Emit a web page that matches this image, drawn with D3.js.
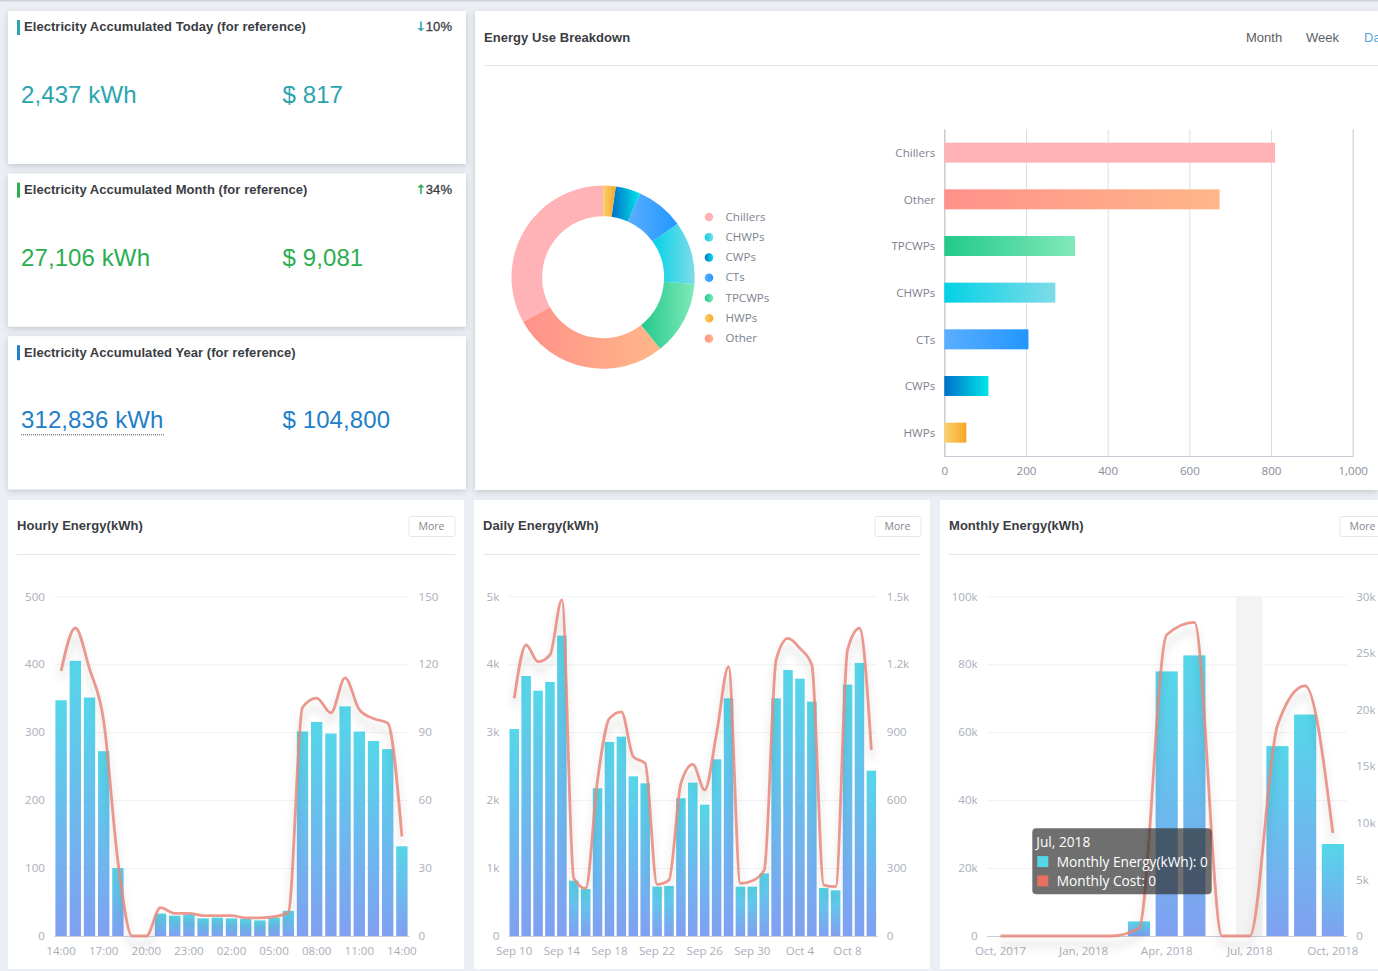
<!DOCTYPE html>
<html>
<head>
<meta charset="utf-8">
<script src="https://cdn.jsdelivr.net/npm/d3@7"></script>
<style>
html, body { margin: 0; padding: 0; background: #ebeef4; overflow: hidden; }
svg { display: block; }
text { font-family: "Open Sans", sans-serif; }
.head { font-family: "Liberation Sans", Arial, sans-serif; font-size: 13px; font-weight: 700; fill: #3a3d43; letter-spacing: 0.05px; }
.tick text { font-size: 11.6px; fill: #aaaeb9; }
</style>
</head>
<body>
<div id="chart"></div>
<script>
// KPI cards
const kpiTitles = ["Electricity Accumulated Today (for reference)", "Electricity Accumulated Month (for reference)", "Electricity Accumulated Year (for reference)"];
const kpiEnergy = ["2,437 kWh", "27,106 kWh", "312,836 kWh"];
const kpiCost = ["$ 817", "$ 9,081", "$ 104,800"];
const kpiChange = ["10%", "34%", ""];
const kpiArrows = ["↓", "↑", ""];

// Energy use breakdown
const breakdownNames = ["Chillers", "Other", "TPCWPs", "CHWPs", "CTs", "CWPs", "HWPs"];
const breakdownValues = [810, 674, 320, 272, 206, 108, 54];
const legendNames = ["Chillers", "CHWPs", "CWPs", "CTs", "TPCWPs", "HWPs", "Other"];
const breakdownTicks = [0, 200, 400, 600, 800, 1000];
const rangeTabs = ["Month", "Week", "Day"];

// Hourly
const hourLabels = ["14:00", "15:00", "16:00", "17:00", "18:00", "19:00", "20:00", "21:00", "22:00", "23:00", "00:00", "01:00", "02:00", "03:00", "04:00", "05:00", "06:00", "07:00", "08:00", "09:00", "10:00", "11:00", "12:00", "13:00", "14:00 "];
const hourEnergy = [347, 405, 351, 272, 100, 0, 0, 33, 30, 32, 26, 27, 26, 25, 23, 27, 37, 301, 315, 298, 338, 301, 287, 275, 132];
const hourCost = [117, 136, 118, 95, 33, 0, 0, 12.5, 10, 10, 9, 9, 9, 8, 8, 8.5, 10.5, 101, 105, 98.5, 114, 100, 96, 94, 44];

// Daily
const dayLabels = ["Sep 10", "Sep 11", "Sep 12", "Sep 13", "Sep 14", "Sep 15", "Sep 16", "Sep 17", "Sep 18", "Sep 19", "Sep 20", "Sep 21", "Sep 22", "Sep 23", "Sep 24", "Sep 25", "Sep 26", "Sep 27", "Sep 28", "Sep 29", "Sep 30", "Oct 1", "Oct 2", "Oct 3", "Oct 4", "Oct 5", "Oct 6", "Oct 7", "Oct 8", "Oct 9", "Oct 10"];
const dayEnergy = [3047, 3827, 3611, 3739, 4421, 815, 692, 2174, 2856, 2934, 2350, 2247, 726, 736, 2027, 2257, 1933, 2600, 3498, 726, 726, 922, 3498, 3915, 3788, 3450, 707, 672, 3700, 4019, 2434];
const dayCost = [1050, 1285, 1211, 1241, 1484, 255, 210, 690, 961, 990, 792, 762, 228, 247, 674, 758, 645, 895, 1189, 232, 244, 291, 1219, 1314, 1270, 1197, 225, 218, 1263, 1359, 821];

// Monthly
const monthLabels = ["Oct, 2017", "Nov, 2017", "Dec, 2017", "Jan, 2018", "Feb, 2018", "Mar, 2018", "Apr, 2018", "May, 2018", "Jun, 2018", "Jul, 2018", "Aug, 2018", "Sep, 2018", "Oct, 2018"];
const monthEnergy = [0, 0, 0, 0, 0, 4300, 77900, 82600, 0, 0, 55900, 65200, 27100];
const monthCost = [0, 0, 0, 0, 0, 680, 26600, 27700, 0, 0, 18600, 22100, 9100];

const width = 1378, height = 971;
const svg = d3.select("#chart").append("svg").attr("width", width).attr("height", height);
const defs = svg.append("defs");

// gradients, one per colour pair
function gradient(id, c1, c2, vertical) {
    const g = defs.append("linearGradient").attr("id", id)
        .attr("x1", 0).attr("y1", 0)
        .attr("x2", vertical ? 0 : 1).attr("y2", vertical ? 1 : 0);
    g.append("stop").attr("offset", "0%").attr("stop-color", c1);
    g.append("stop").attr("offset", "100%").attr("stop-color", c2);
}
gradient("barFill", "#55d7e9", "#80a0f1", true);
const sliceColors = {
    Chillers: ["#ffb3b6", "#ffb3b6"],
    Other: ["#ff918a", "#ffb789"],
    TPCWPs: ["#22c98b", "#80e9ba"],
    CHWPs: ["#02d2e6", "#7fdbe8"],
    CTs: ["#5aaeff", "#2296ff"],
    CWPs: ["#0070c8", "#00e6e8"],
    HWPs: ["#f9d271", "#faa526"]
};
Object.keys(sliceColors).forEach(k => gradient("fill" + k, sliceColors[k][0], sliceColors[k][1], false));

const shadow = defs.append("filter").attr("id", "cardShadow")
    .attr("x", "-5%").attr("y", "-5%").attr("width", "110%").attr("height", "115%");
shadow.append("feDropShadow").attr("dx", 0).attr("dy", 2).attr("stdDeviation", 3)
    .attr("flood-color", "#000").attr("flood-opacity", 0.16);

// top strip of the page
svg.append("rect").attr("width", width).attr("height", 1.5).attr("fill", "#cfd1d6");

function card(x, y, w, h, raised) {
    svg.append("rect").attr("x", x).attr("y", y).attr("width", w).attr("height", h)
        .attr("fill", "#fff").attr("filter", raised ? "url(#cardShadow)" : null);
}

// KPI cards on the left
const kpiColors = ["#2aa4ae", "#2bae50", "#1f80c9"];
kpiTitles.forEach((title, i) => {
    const top = 11 + i * 162.6;
    card(8, top, 458, 153, true);
    svg.append("rect").attr("x", 17).attr("y", top + 9).attr("width", 3).attr("height", 15).attr("fill", kpiColors[i]);
    svg.append("text").attr("class", "head").attr("x", 24).attr("y", top + 20.4).text(title);
    [kpiEnergy[i], kpiCost[i]].forEach((val, j) => {
        svg.append("text").attr("x", j ? 282.5 : 21).attr("y", top + 92)
            .style("font-family", "'Liberation Sans', Arial, sans-serif")
            .style("font-size", "24px").style("letter-spacing", "0.1px").attr("fill", kpiColors[i]).text(val);
    });
    if (kpiChange[i]) {
        svg.append("text").attr("class", "head").attr("x", 452).attr("y", top + 20.4)
            .attr("text-anchor", "end").style("font-weight", 400).style("stroke", "#3a3d43").style("stroke-width", 0.3).text(kpiChange[i]);
        svg.append("text").attr("x", 421).attr("y", top + 20.4).attr("text-anchor", "middle")
            .style("font-family", "'DejaVu Sans'").style("font-size", "13px").style("font-weight", 700)
            .attr("fill", kpiColors[i]).text(kpiArrows[i]);
    }
});
// dotted underline on the year figure
svg.append("line").attr("x1", 21).attr("x2", 165).attr("y1", 434.8).attr("y2", 434.8)
    .attr("stroke", "#555").attr("stroke-dasharray", "1 1");

// Breakdown card
card(475, 11, 903, 479, true);
svg.append("text").attr("class", "head").attr("x", 484).attr("y", 42).text("Energy Use Breakdown");
svg.append("line").attr("x1", 484).attr("x2", 1378).attr("y1", 65.5).attr("y2", 65.5).attr("stroke", "#e6e7ea");
const tabX = [1246, 1306, 1364];
rangeTabs.forEach((t, i) => {
    svg.append("text").attr("x", tabX[i]).attr("y", 42)
        .style("font-family", "'Liberation Sans', Arial, sans-serif").style("font-size", "13px")
        .attr("fill", i === 2 ? "#5ba4d8" : "#5c5f66").text(t);
});

// donut
const pie = d3.pie().sort((a, b) => a.value - b.value).value(d => d.value);
const arc = d3.arc().innerRadius(61).outerRadius(91.6);
const pieData = breakdownNames.map((name, i) => ({ name: name, value: breakdownValues[i] }));
svg.append("g").attr("transform", "translate(603.1,277.2)")
    .selectAll("path").data(pie(pieData)).enter().append("path")
    .attr("d", arc)
    .attr("fill", d => "url(#fill" + d.data.name + ")");

const legend = svg.append("g").selectAll("g").data(legendNames).enter().append("g")
    .attr("transform", (d, i) => "translate(709," + (217 + i * 20.25) + ")");
legend.append("circle").attr("r", 4.3).attr("fill", d => "url(#fill" + d + ")");
legend.append("text").attr("x", 16.5).attr("y", 3.6).style("font-size", "11.6px").attr("fill", "#7d8290").text(d => d);

// horizontal bars
const hx = d3.scaleLinear().domain([0, 1000]).range([944.3, 1352.7]);
const hy = d3.scaleBand().domain(breakdownNames).range([129.3, 456]);
const hGrid = svg.append("g").attr("transform", "translate(0,456)")
    .call(d3.axisBottom(hx).tickValues(breakdownTicks).tickSize(-326.7).tickPadding(11).tickFormat(d3.format(",")));
hGrid.select(".domain").attr("stroke", "#c6c9d4");
hGrid.selectAll("line").attr("stroke", "#dcdee5");
hGrid.selectAll("text").style("fill", "#888d99");
const hAxis = svg.append("g").attr("transform", "translate(944.3,0)")
    .call(d3.axisLeft(hy).tickSize(0).tickPadding(9));
hAxis.select(".domain").attr("stroke", "#c6c9d4");
hAxis.selectAll("text").style("fill", "#7d8290").attr("y", 0.5);
svg.append("g").selectAll("rect").data(pieData).enter().append("rect")
    .attr("x", hx(0))
    .attr("y", d => hy(d.name) + (hy.bandwidth() - 20) / 2)
    .attr("width", d => hx(d.value) - hx(0))
    .attr("height", 20)
    .attr("fill", d => "url(#fill" + d.name + ")");

// combo chart: bars on the left scale, smooth line on the right scale
function combo(opts) {
    card(opts.cardX, 500, opts.cardW, 469, false);
    svg.append("text").attr("class", "head").attr("x", opts.cardX + 9).attr("y", 530).text(opts.title);
    svg.append("line").attr("x1", opts.cardX + 9).attr("x2", opts.ruleEnd).attr("y1", 554.5).attr("y2", 554.5).attr("stroke", "#e4e5e9");
    svg.append("rect").attr("x", opts.moreX).attr("y", 516.5).attr("width", 46).attr("height", 20).attr("rx", 2)
        .attr("fill", "#fff").attr("stroke", "#e6e7ea");
    svg.append("text").attr("x", opts.moreX + 22.5).attr("y", 530.3).attr("text-anchor", "middle")
        .style("font-size", "10.5px").attr("fill", "#83868e").text("More");

    const x = d3.scaleBand().domain(opts.labels).range([opts.x0, opts.x1]).paddingInner(0.2).paddingOuter(0.1);
    const yL = d3.scaleLinear().domain([0, opts.leftMax]).range([936, 596.3]);
    const yR = d3.scaleLinear().domain([0, opts.rightMax]).range([936, 596.3]);

    const grid = svg.append("g").attr("transform", "translate(" + opts.x0 + ",0)")
        .call(d3.axisLeft(yL).tickValues(opts.leftTicks).tickSize(-(opts.x1 - opts.x0)).tickPadding(9).tickFormat(opts.leftFormat));
    grid.select(".domain").remove();
    grid.selectAll("line").attr("stroke", "#f1f2f5");

    if (opts.highlight) {
        svg.append("rect").attr("x", x(opts.highlight) - x.step() * 0.1).attr("y", 596.3)
            .attr("width", x.step() - 1).attr("height", 339.7).attr("fill", "#f3f3f3");
    }

    const right = svg.append("g").attr("transform", "translate(" + opts.x1 + ",0)")
        .call(d3.axisRight(yR).tickValues(opts.rightTicks).tickSize(0).tickPadding(9.5).tickFormat(opts.rightFormat));
    right.select(".domain").remove();

    const bottom = svg.append("g").attr("transform", "translate(0,936)")
        .call(d3.axisBottom(x).tickValues(opts.labels.filter((d, i) => i % opts.every === 0)).tickSize(0).tickPadding(11).tickFormat(d => d.trim()));
    bottom.select(".domain").attr("stroke", "#c9cdd8");

    svg.append("g").selectAll("rect").data(opts.energy).enter().append("rect")
        .attr("x", (d, i) => x(opts.labels[i]))
        .attr("y", d => yL(d))
        .attr("width", x.bandwidth())
        .attr("height", d => 936 - yL(d))
        .attr("fill", "url(#barFill)");

    const line = d3.line()
        .x((d, i) => x(opts.labels[i]) + x.bandwidth() / 2)
        .y(d => yR(d))
        .curve(d3.curveMonotoneX);
    svg.append("path").datum(opts.cost)
        .attr("d", line)
        .attr("fill", "none")
        .attr("stroke", "#e8877b")
        .attr("stroke-opacity", 0.85)
        .attr("stroke-width", 2.8)
        .style("filter", "drop-shadow(0 9px 4px rgba(0,0,0,0.2))");
}

const kFormat = d => (d === 0 ? "0" : d / 1000 + "k");

combo({
    title: "Hourly Energy(kWh)", cardX: 8, cardW: 456, ruleEnd: 455, moreX: 409,
    x0: 54, x1: 409, labels: hourLabels, energy: hourEnergy, cost: hourCost, every: 3,
    leftMax: 500, rightMax: 150,
    leftTicks: [0, 100, 200, 300, 400, 500], rightTicks: [0, 30, 60, 90, 120, 150],
    leftFormat: d3.format("d"), rightFormat: d3.format("d")
});
combo({
    title: "Daily Energy(kWh)", cardX: 474, cardW: 456, ruleEnd: 920, moreX: 875,
    x0: 508.3, x1: 877.3, labels: dayLabels, energy: dayEnergy, cost: dayCost, every: 4,
    leftMax: 5000, rightMax: 1500,
    leftTicks: [0, 1000, 2000, 3000, 4000, 5000], rightTicks: [0, 300, 600, 900, 1200, 1500],
    leftFormat: kFormat, rightFormat: d => (d === 0 ? "0" : d < 1000 ? String(d) : d / 1000 + "k")
});
combo({
    title: "Monthly Energy(kWh)", cardX: 940, cardW: 438, ruleEnd: 1378, moreX: 1340,
    x0: 986.7, x1: 1346.7, labels: monthLabels, energy: monthEnergy, cost: monthCost, every: 3,
    leftMax: 100000, rightMax: 30000, highlight: "Jul, 2018",
    leftTicks: [0, 20000, 40000, 60000, 80000, 100000], rightTicks: [0, 5000, 10000, 15000, 20000, 25000, 30000],
    leftFormat: kFormat, rightFormat: kFormat
});

// tooltip that was open in the screenshot
const tip = svg.append("g").attr("transform", "translate(1032.3,828.3)");
tip.append("rect").attr("width", 179.4).attr("height", 66).attr("rx", 4).attr("fill", "rgba(50,50,50,0.7)");
const tipLines = ["Jul, 2018", "Monthly Energy(kWh): 0", "Monthly Cost: 0"];
const tipSwatches = [null, "#55d7e9", "#e8705f"];
tipLines.forEach((t, i) => {
    tip.append("text").attr("x", i ? 24.5 : 4).attr("y", 19 + i * 19.3)
        .style("font-size", "13.7px").attr("fill", "#fff").text(t);
    if (tipSwatches[i]) {
        tip.append("rect").attr("x", 5).attr("y", 8.5 + i * 19.3).attr("width", 11).attr("height", 11).attr("fill", tipSwatches[i]);
    }
});
</script>
</body>
</html>
